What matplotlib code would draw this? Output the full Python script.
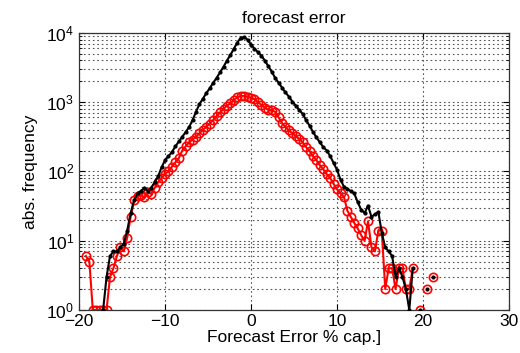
import numpy as np
import matplotlib
matplotlib.use("Agg")
import matplotlib.pyplot as plt
from matplotlib.ticker import LogLocator, FixedLocator

plt.rcParams["font.family"] = ["Liberation Sans", "DejaVu Sans"]
plt.rcParams["mathtext.fontset"] = "custom"
plt.rcParams["mathtext.rm"] = "Liberation Sans"
plt.rcParams["mathtext.it"] = "Liberation Sans"

# histogram bins (centres), 0.4 wide
bin_start = -19.2
bin_width = 0.4
nan = np.nan

# black: all forecasts
black_counts = [
    nan, nan, nan, nan, nan, 1, 3, 6, 7, 7,
    8, 9, 14, 25, 38, 48, 52, 58, 52, 58,
    70, 85, 115, 145, 166, 190, 229, 270, 316, 370,
    437, 550, 725, 935, 1120, 1350, 1585, 1900, 2240, 2700,
    3240, 3980, 4790, 5890, 7240, 8500, 8700, 7950, 6760, 5900,
    5250, 4680, 3980, 3310, 2750, 2240, 1900, 1620, 1380, 1200,
    1020, 890, 775, 675, 550, 457, 372, 309, 263, 224,
    200, 166, 132, 105, 76, 60, 55, 52, 48, 36,
    28, 25, 32, 22, 24, 26, 13, 8, 7, 6,
    3, 4, 3, 2, 1, 4, nan, 1, nan, 2,
    nan, 3, nan,
]

# red: subset
red_counts = [
    6, 5, 1, 1, 1, 1, 1, 3, 4, 6,
    8, 7, 11, 22, 38, 44, 45, 42, 50, 47,
    58, 70, 80, 92, 100, 117, 135, 155, 200, 230,
    263, 288, 316, 355, 400, 437, 490, 550, 630, 710,
    795, 890, 955, 1070, 1175, 1230, 1230, 1200, 1150, 1100,
    1000, 910, 830, 775, 760, 725, 600, 500, 435, 390,
    355, 325, 295, 263, 224, 195, 166, 145, 123, 107,
    91, 80, 66, 55, 48, 43, 27, 22, 18, 15,
    12, 10, 19, 8, 7, 14, 14, 2, 4, 4,
    2, 4, 4, 2, 2, 4, nan, 1, nan, 2,
    nan, 3, nan,
]

x = bin_start + bin_width * np.arange(len(red_counts))

fig = plt.figure(figsize=(5.2, 3.53), dpi=100)
ax = fig.add_axes([0.152, 0.122, 0.827, 0.785])

ax.plot(x, black_counts, color="black", lw=1.5, marker=".", ms=4, zorder=3)
ax.plot(x, red_counts, color="red", lw=1.5, marker="o", ms=6,
        mfc="none", mec="red", mew=1.2, zorder=2)

ax.set_yscale("log")
ax.set_xlim(-20, 30)
ax.set_ylim(1, 1e4)
ax.xaxis.set_major_locator(FixedLocator([-20, -10, 0, 10, 20, 30]))
ax.yaxis.set_major_locator(LogLocator(base=10, numticks=10))
ax.yaxis.set_minor_locator(LogLocator(base=10, subs=np.arange(2, 10), numticks=10))
ax.yaxis.set_minor_formatter(plt.NullFormatter())

ax.grid(True, which="major", axis="x", ls=(0, (1.5, 2.5)), color="#555555", lw=0.8)
ax.grid(True, which="both", axis="y", ls=(0, (1.5, 2.5)), color="#555555", lw=0.8)

ax.tick_params(which="both", direction="in", top=True, right=True, labelsize=12.5)
ax.tick_params(which="major", length=4)
ax.tick_params(axis="x", pad=3)
ax.tick_params(which="minor", length=2)
for s in ax.spines.values():
    s.set_color("#333333")
    s.set_linewidth(0.9)

ax.set_title("forecast error", fontsize=12.5, pad=7)
ax.set_xlabel("Forecast Error % cap.]", fontsize=12.5, labelpad=1)
ax.set_ylabel("abs. frequency", fontsize=12.5, labelpad=6)

fig.savefig("out.png", dpi=100)
